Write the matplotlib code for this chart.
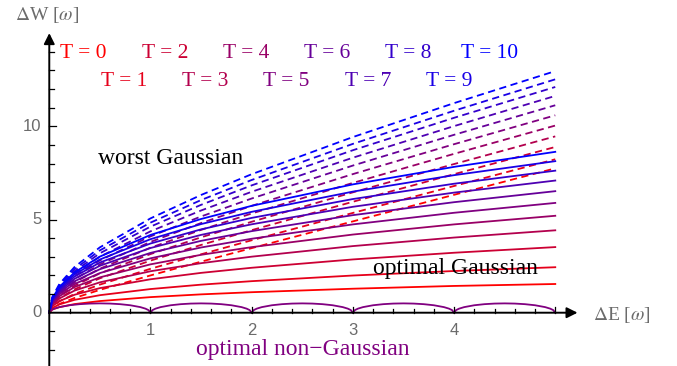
import numpy as np
import matplotlib
matplotlib.use("Agg")
import matplotlib.pyplot as plt

plt.rcParams['mathtext.fontset'] = 'stix'

# === data ===
temps = [0, 1, 2, 3, 4, 5, 6, 7, 8, 9, 10]
dE = [0, 0.03, 0.1, 0.25, 0.5, 1, 1.5, 2, 3, 4, 5]

# optimal Gaussian (solid), one row per T
optimal_gaussian = [
    [0, 0.171, 0.300, 0.463, 0.625, 0.836, 0.984, 1.100, 1.287, 1.436, 1.540],
    [0, 0.253, 0.446, 0.691, 0.940, 1.269, 1.505, 1.692, 1.995, 2.237, 2.440],
    [0, 0.350, 0.621, 0.964, 1.320, 1.793, 2.137, 2.411, 2.858, 3.217, 3.520],
    [0, 0.429, 0.764, 1.187, 1.630, 2.224, 2.657, 3.006, 3.574, 4.032, 4.420],
    [0, 0.496, 0.886, 1.377, 1.896, 2.594, 3.106, 3.518, 4.193, 4.738, 5.200],
    [0, 0.552, 0.990, 1.541, 2.126, 2.917, 3.499, 3.968, 4.738, 5.361, 5.890],
    [0, 0.604, 1.084, 1.687, 2.333, 3.208, 3.855, 4.376, 5.234, 5.929, 6.520],
    [0, 0.649, 1.168, 1.819, 2.518, 3.470, 4.175, 4.743, 5.682, 6.443, 7.090],
    [0, 0.691, 1.246, 1.941, 2.691, 3.712, 4.471, 5.086, 6.098, 6.920, 7.620],
    [0, 0.730, 1.319, 2.055, 2.854, 3.944, 4.755, 5.412, 6.497, 7.379, 8.130],
    [0, 0.769, 1.389, 2.163, 3.011, 4.172, 5.028, 5.734, 6.884, 7.824, 8.630],
]

# worst Gaussian (dashed), one row per T
worst_gaussian = [
    [0, 0.249, 0.469, 0.791, 1.225, 2.000, 2.739, 3.464, 4.899, 6.325, 7.746],
    [0, 0.329, 0.612, 1.006, 1.508, 2.356, 3.134, 3.886, 5.353, 6.797, 8.231],
    [0, 0.420, 0.775, 1.256, 1.845, 2.795, 3.635, 4.429, 5.952, 7.432, 8.891],
    [0, 0.489, 0.900, 1.449, 2.110, 3.146, 4.044, 4.879, 6.458, 7.975, 9.460],
    [0, 0.554, 1.018, 1.632, 2.362, 3.487, 4.443, 5.322, 6.963, 8.523, 10.040],
    [0, 0.612, 1.124, 1.798, 2.591, 3.799, 4.811, 5.732, 7.436, 9.040, 10.590],
    [0, 0.667, 1.224, 1.954, 2.808, 4.095, 5.163, 6.127, 7.894, 9.544, 11.129],
    [0, 0.716, 1.313, 2.095, 3.004, 4.365, 5.484, 6.488, 8.316, 10.010, 11.630],
    [0, 0.763, 1.398, 2.227, 3.188, 4.618, 5.787, 6.831, 8.717, 10.456, 12.110],
    [0, 0.801, 1.468, 2.337, 3.343, 4.832, 6.044, 7.120, 9.058, 10.835, 12.520],
    [0, 0.843, 1.543, 2.455, 3.507, 5.060, 6.317, 7.430, 9.423, 11.243, 12.961],
]

# optimal non-Gaussian: one arch between neighbouring integers
arc_t = [0, 0.02, 0.05, 0.1, 0.2, 0.3, 0.4, 0.5, 0.6, 0.7, 0.8, 0.9, 0.95, 0.98, 1]
arc_w = [0, 0.14, 0.218, 0.30, 0.40, 0.458, 0.49, 0.50, 0.49, 0.458, 0.40, 0.30, 0.218, 0.14, 0]
arc_starts = [0, 1, 2, 3, 4]

x_major = [1, 2, 3, 4]
y_major = [0, 5, 10]


def tcolor(T):
    s = T / 10.0
    return (1 - s, 0, s)


fig = plt.figure(figsize=(6.77, 3.66), dpi=100)
ax = fig.add_axes([0, 0, 1, 1])
ax.set_xlim(-0.487, 6.203)
ax.set_ylim(-2.859, 16.776)
ax.axis('off')

gray = '#6b6b6b'
serif = ['Liberation Serif', 'DejaVu Serif']

# === curves ===
for T, row in zip(temps, worst_gaussian):
    ax.plot(dE, row, color=tcolor(T), lw=1.3, dashes=(4, 2.5), zorder=3)
for T, row in zip(temps, optimal_gaussian):
    ax.plot(dE, row, color=tcolor(T), lw=1.3, zorder=3)

purple = (0.5, 0, 0.5)
for n in arc_starts:
    ax.plot(np.array(arc_t) + n, arc_w, color=purple, lw=1.3, zorder=3)

# === axes with arrows ===
ax.annotate('', xy=(5.22, 0), xytext=(0, 0),
            arrowprops=dict(arrowstyle='-|>', color='k', lw=1.4,
                            mutation_scale=16, shrinkA=0, shrinkB=0), zorder=4)
ax.annotate('', xy=(0, 15.0), xytext=(0, -2.9),
            arrowprops=dict(arrowstyle='-|>', color='k', lw=1.4,
                            mutation_scale=16, shrinkA=0, shrinkB=0), zorder=4)

# x ticks (pointing up)
for k in range(1, 26):
    xv = k * 0.2
    ln = 0.32 if k % 5 == 0 else 0.21
    ax.plot([xv, xv], [0, ln], color='k', lw=0.9, zorder=4)
# y ticks (pointing right)
for v in range(-2, 15):
    if v == 0:
        continue
    ln = 0.065 if v % 5 == 0 else 0.045
    ax.plot([0, ln], [v, v], color='k', lw=0.9, zorder=4)

for k in x_major:
    ax.text(k, -0.98, str(k), ha='center', va='center', color=gray,
            fontsize=12, family='Liberation Sans')
for v in y_major:
    ax.text(-0.075, v, str(v), ha='right', va='center', color=gray,
            fontsize=12, family='Liberation Sans')

# axis labels
ax.text(-0.34, 15.95, r'$\Delta$W [$\omega$]', ha='left', va='center',
        color=gray, fontsize=14, family=serif)
ax.text(5.37, -0.1, r'$\Delta$E [$\omega$]', ha='left', va='center',
        color=gray, fontsize=14, family=serif)

# legend of temperatures
for T in temps:
    if T % 2 == 0:
        px = 83.5 + 81.3 * (T // 2)
        py = 53.5
    else:
        px = 124 + 81.3 * (T // 2)
        py = 81.5
    xd = (px - 49.3) / 101.2
    yd = (312.7 - py) / 18.64
    ax.text(xd, yd, f'T = {T}', ha='center', va='center', color=tcolor(T),
            fontsize=15.5, family=serif)

ax.text((171 - 49.3) / 101.2, (312.7 - 164) / 18.64, 'worst Gaussian',
        ha='center', va='baseline', color='k', fontsize=17, family=serif)
ax.text((455 - 49.3) / 101.2, (312.7 - 274) / 18.64, 'optimal Gaussian',
        ha='center', va='baseline', color='k', fontsize=17, family=serif, zorder=5)
ax.text((302.5 - 49.3) / 101.2, (312.7 - 355) / 18.64, 'optimal non\u2212Gaussian',
        ha='center', va='baseline', color=purple, fontsize=17, family=serif)

fig.savefig('out.png', dpi=100)
